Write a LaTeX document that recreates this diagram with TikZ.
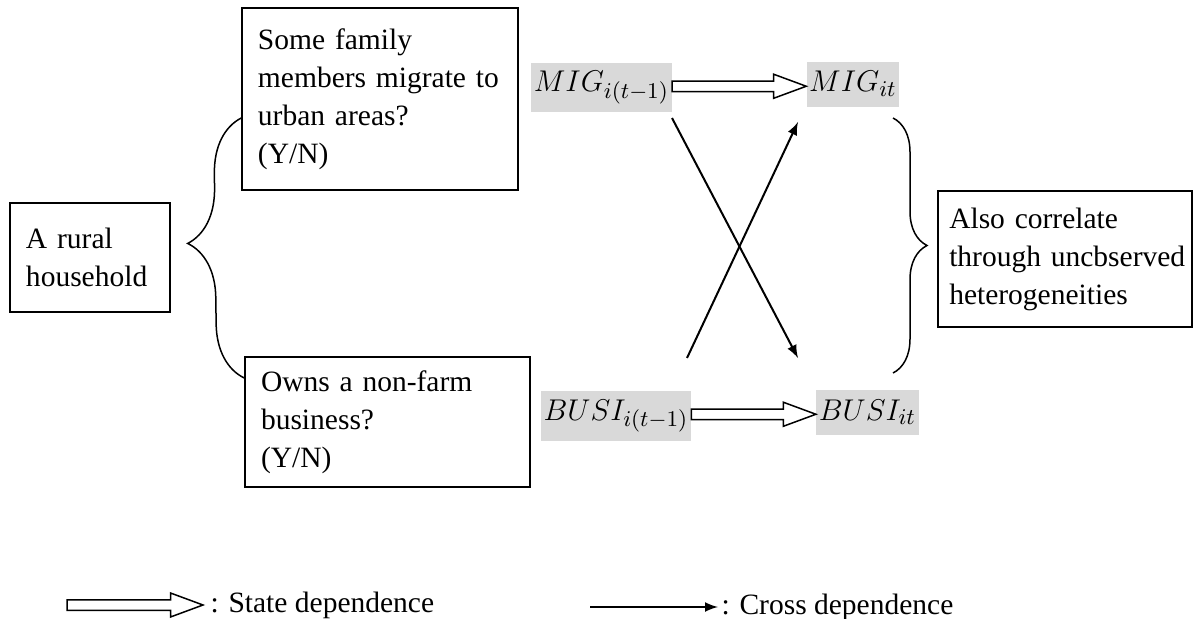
\documentclass[tikz,border=0pt]{standalone}
\usepackage{fontspec}
\setmainfont{Liberation Serif}
\usepackage{tikz}
\usetikzlibrary{arrows,positioning,shapes,calc,decorations.pathreplacing}

\definecolor{shade}{RGB}{217,217,217}

\begin{document}
\begin{tikzpicture}[
            x=0.4pt,y=-0.4pt,
            txt/.style={font=\fontsize{11.8}{15.2}\selectfont},
            box/.style={draw,rectangle,line width=0.6pt,align=left,txt},
            var/.style={fill=shade,inner xsep=1pt,minimum height=18pt,anchor=base,font=\fontsize{12.6}{15}\selectfont},
            lab/.style={anchor=west,inner sep=0pt,txt},
            hollow/.style={draw,line width=0.6pt,to path={let \p1=(\tikztostart), \p2=(\tikztotarget) in
              (\x1,\y1+2.1pt) -- (\x2-13pt,\y1+2.1pt) -- (\x2-13pt,\y1+4.8pt) -- (\x2,\y1)
              -- (\x2-13pt,\y1-4.8pt) -- (\x2-13pt,\y1-2.1pt) -- (\x1,\y1-2.1pt) -- cycle}},
            cross/.style={draw,->,>=latex,line width=0.8pt},
            brc/.style={draw,line width=0.6pt,decorate,decoration={brace,amplitude=#1}}
          ]
          \useasboundingbox (0,0) rectangle (1194,619);

          %household and the two questions
          \node[box,minimum width=64pt,minimum height=43.6pt,inner xsep=6.4pt,text width=51.2pt] (house) at (90,257.5) {A rural\\household};
          \node[box,minimum width=110.4pt,minimum height=72.8pt,inner xsep=6.4pt,text width=97.6pt] (migq) at (380,99) {Some family\\members migrate to\\urban areas?\\(Y/N)};
          \node[box,minimum width=114pt,minimum height=52pt,inner xsep=6.4pt,text width=101.2pt] (busiq) at (387.5,422) {Owns a non-farm\\business?\\(Y/N)};
          \node[box,minimum width=101.6pt,minimum height=54.4pt,inner xsep=4.5pt,text width=92.6pt] (corr) at (1065,259) {Also correlate\\\mbox{through uncbserved}\\heterogeneities};

          %variables
          \node[var] (migprev) at (601.5,92) {$MIG_{i(t-1)}$};
          \node[var] (mignow) at (853,92) {$MIG_{it}$};
          \node[var] (busiprev) at (616,420) {$BUSI_{i(t-1)}$};
          \node[var] (businow) at (867.5,420) {$BUSI_{it}$};

          %state dependence
          \path[hollow] (migprev.mid east) to (mignow.mid west);
          \path[hollow] (busiprev.mid east) to (businow.mid west);

          %cross dependence
          \coordinate (c1) at (672,118);
          \coordinate (c2) at (798,358);
          \coordinate (c3) at (687,358);
          \coordinate (c4) at (798,122);
          \path[cross] (c1) -- (c2);
          \path[cross] (c3) -- (c4);

          %braces
          \coordinate (lb1) at (migq.west |- 0,118);
          \coordinate (lb2) at (busiq.west |- 0,378);
          \coordinate (rb1) at (893,118);
          \coordinate (rb2) at (893,373);
          \path[brc=22pt,decoration={aspect=0.52}] (lb2) -- (lb1);
          \path[brc=13.6pt] (rb1) -- (rb2);

          %legend
          \coordinate (s1) at (67,605);
          \coordinate (s2) at (203,605);
          \coordinate (d1) at (590,607);
          \coordinate (d2) at (718,607);
          \path[hollow] (s1) to (s2);
          \path[cross] (d1) -- (d2);
          \node[lab] (slab) at (210,605) {: State dependence};
          \node[lab] (dlab) at (721,607) {: Cross dependence};

      \end{tikzpicture}
\end{document}
